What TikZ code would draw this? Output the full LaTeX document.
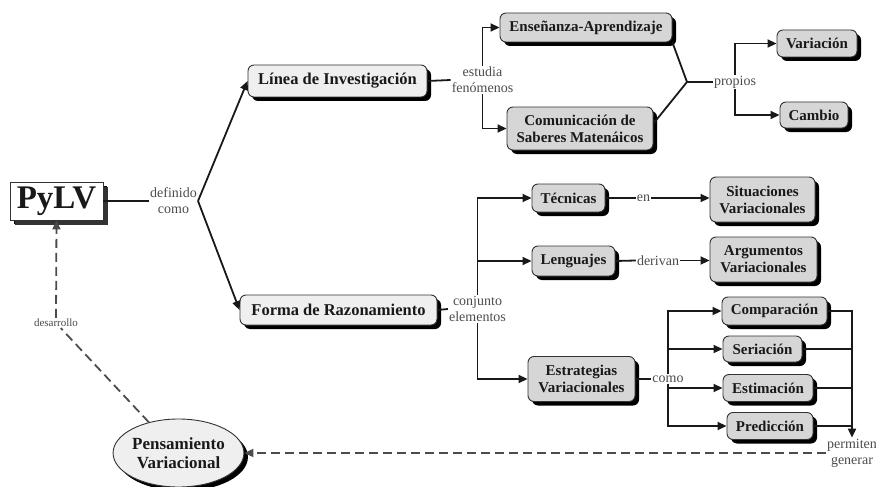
\documentclass[tikz,border=0pt]{standalone}
\usepackage{fontspec}
\setmainfont{Liberation Serif}
\usetikzlibrary{arrows.meta,shadows,shapes.geometric}
\definecolor{boxlight}{HTML}{EFEFEF}
\definecolor{boxgray}{HTML}{D6D6D6}
\begin{document}
\begin{tikzpicture}[x=1pt,y=-1pt,
 box/.style={draw=black!80, line width=0.9pt, rounded corners=6pt, fill=#1, align=center, inner sep=1pt,
   font=\bfseries\fontsize{15}{17}\selectfont, text=black!90,
   drop shadow={shadow xshift=4pt, shadow yshift=-4pt, fill=black, opacity=1}},
 box/.default=boxgray,
 bigbox/.style={box=boxlight, font=\bfseries\fontsize{16.5}{19}\selectfont},
 lab/.style={fill=white, inner sep=1pt, align=center, font=\fontsize{14}{16}\selectfont, text=black!70},
 con/.style={line width=1.8pt, draw=black!90},
 arr/.style={con, -{Triangle[length=9pt,width=8pt]}},
 dsh/.style={line width=1.8pt, draw=black!70, dash pattern=on 9pt off 5pt, -{Triangle[length=9pt,width=8pt]}},
]
\useasboundingbox (0,0) rectangle (876,487);

% nodes
\node[box=white, rounded corners=0pt, font=\bfseries\fontsize{33}{36}\selectfont,
  minimum width=93pt, minimum height=38pt, inner sep=0pt,
  drop shadow={shadow xshift=5pt, shadow yshift=-5pt, fill=black!80, opacity=1}] (pylv) at (56.5,201) {PyLV};
\node[bigbox, minimum width=179pt, minimum height=32pt] (linea) at (337.5,81) {Línea de Investigación};
\node[bigbox, minimum width=197pt, minimum height=30pt] (forma) at (338.5,310) {Forma de Razonamiento};

\node[box, minimum width=172pt, minimum height=29pt] (ensen) at (586,27.5) {Enseñanza-Aprendizaje};
\node[box, minimum width=146pt, minimum height=43pt] (comun) at (580,128.5) {Comunicación de\\Saberes Matenáicos};
\node[box, minimum width=80pt, minimum height=27pt] (varia) at (817,43.5) {Variación};
\node[box, minimum width=68pt, minimum height=26pt] (cambio) at (814,115) {Cambio};

\node[box, minimum width=73pt, minimum height=28pt] (tecn) at (568.5,198) {Técnicas};
\node[box, minimum width=105pt, minimum height=45pt] (situ) at (762.5,199.5) {Situaciones\\Variacionales};
\node[box, minimum width=83pt, minimum height=30pt] (leng) at (573.5,261) {Lenguajes};
\node[box, minimum width=107pt, minimum height=45pt] (argu) at (763.5,259.5) {Argumentos\\Variacionales};
\node[box, minimum width=107pt, minimum height=45pt] (estr) at (581.5,379) {Estrategias\\Variacionales};

\node[box, minimum width=105pt, minimum height=28pt] (compa) at (774.5,311) {Comparación};
\node[box, minimum width=79pt, minimum height=26pt] (seria) at (762.5,349) {Seriación};
\node[box, minimum width=90pt, minimum height=27pt] (estim) at (768,388) {Estimación};
\node[box, minimum width=86pt, minimum height=27pt] (predi) at (770,426) {Predicción};

\node[box=boxlight, ellipse, rounded corners=0pt, font=\bfseries\fontsize{17}{19}\selectfont,
  minimum width=123pt, minimum height=68pt, inner sep=0pt] (pens) at (178.5,453) {Pensamiento\\Variacional};

% labels
\node[lab] (def) at (173.5,201) {definido\\como};
\node[lab] (est) at (482.5,80) {estudia\\fenómenos};
\node[lab] (prop) at (735,82) {propios};
\node[lab] (conj) at (477.5,309) {conjunto\\elementos};
\node[lab] (en) at (643.5,198) {en};
\node[lab] (der) at (658,260.5) {derivan};
\node[lab] (como) at (668,379) {como};
\node[lab] (perm) at (852,453) {permiten\\generar};
\node[lab, font=\fontsize{11}{13}\selectfont] (desa) at (56,323) {desarrollo};
\coordinate (j1) at (687,82);

% connectors
\draw[con] (pylv.east) -- (def.west);
\draw[arr] (def.east) -- (linea.west);
\draw[arr] (def.east) -- (forma.west);

\draw[con] (linea.east) -- (est.west);
\draw[arr] (est.north) |- (ensen.west);
\draw[arr] (est.south) |- (comun.west);
\draw[con] (ensen.south east) -- (j1);
\draw[con] ([yshift=5pt]comun.east) -- (j1);
\draw[con] (j1) -- (prop.west);
\draw[arr] (prop.north) |- (varia.west);
\draw[arr] (prop.south) |- (cambio.west);

\draw[con] (forma.east) -- (conj.west);
\draw[arr] (conj.north) |- (tecn.west);
\draw[arr] (conj.north) |- (leng.west);
\draw[arr] (conj.south) |- (estr.west);

\draw[con] (tecn.east) -- (en.west);
\draw[arr] (en.east) -- (en.east -| situ.west);
\draw[con] (leng.east) -- (der.west);
\draw[arr] (der.east) -- (der.east -| argu.west);

\draw[con] (estr.east) -- (como.west);
\draw[arr] (como.north) |- (compa.west);
\draw[arr] (como.north) |- (seria.west);
\draw[arr] (como.south) |- (estim.west);
\draw[arr] (como.south) |- (predi.west);

\draw[arr] (compa.east) -| (perm.north);
\draw[con] (seria.east) -- (seria.east -| perm.north);
\draw[con] (estim.east) -- (estim.east -| perm.north);
\draw[con] (predi.east) -- (predi.east -| perm.north);

\draw[dsh] (perm.west) -- (pens.east);
\draw[dsh, -] (pens.134) -- (desa);
\draw[dsh] (desa.north) -- (pylv.south);
\end{tikzpicture}
\end{document}
